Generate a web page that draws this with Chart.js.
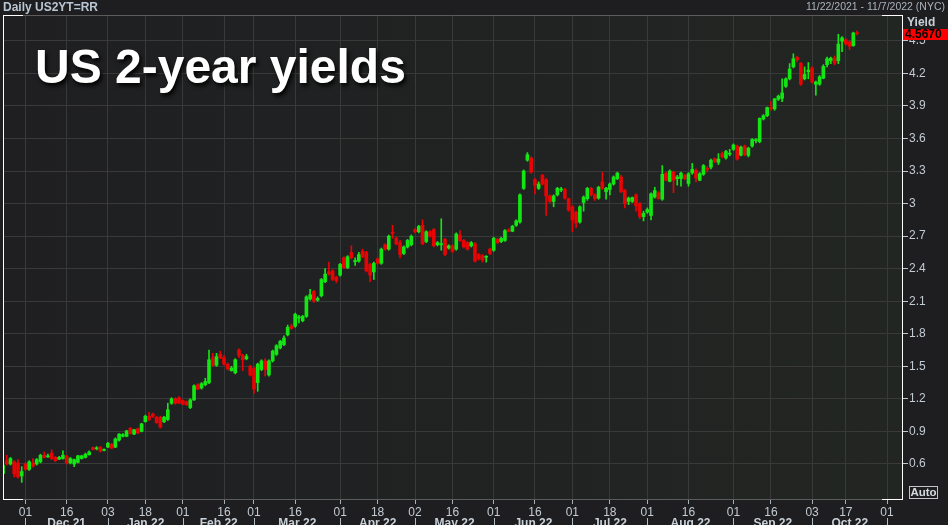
<!DOCTYPE html>
<html>
<head>
<meta charset="utf-8">
<title>US 2-year yields</title>
<script src="https://cdn.jsdelivr.net/npm/chart.js@4.4.0/dist/chart.umd.min.js"></script>
<style>
  html, body { margin: 0; padding: 0; background: #1e1e20; }
  #wrap { position: relative; width: 948px; height: 525px; overflow: hidden; background: #1e1e20; }
  #c { position: absolute; left: 0; top: 0; }
  .hdr { position: absolute; left: 3px; top: 0px; font: bold 12px "Liberation Sans", Arial, sans-serif; color: #b9c6d3; }
  .range { position: absolute; right: 3px; top: 0px; font: 10.5px "Liberation Sans", Arial, sans-serif; color: #aab2ba; }
  .yield { position: absolute; left: 907px; top: 15px; font: bold 12px "Liberation Sans", Arial, sans-serif; color: #c8d0d8; }
  .auto { position: absolute; left: 909px; top: 486px; width: 27px; height: 11px; border: 1px solid #c0c4c8;
          font: bold 11.5px/11px "Liberation Sans", Arial, sans-serif; color: #d4dae0; text-align: center; }
  .big { position: absolute; left: 35px; top: 43px; font: bold 48px/48px "Liberation Sans", Arial, sans-serif;
         color: #ffffff; text-shadow: 2px 3px 4px rgba(0,0,0,0.95); white-space: nowrap; }
</style>
</head>
<body>
<div id="wrap">
  <canvas id="c" width="948" height="525"></canvas>
  <div class="hdr">Daily US2YT=RR</div>
  <div class="range">11/22/2021 - 11/7/2022 (NYC)</div>
  <div class="yield">Yield</div>
  <div class="auto">Auto</div>
  <div class="big">US 2-year yields</div>
</div>
<script>
// trading days on the axis
const firstDay = '2021-11-22';
const lastDay = '2022-11-07';
const holidays = ['2021-11-25', '2021-12-24', '2022-01-17', '2022-02-21', '2022-04-15',
                  '2022-05-30', '2022-06-20', '2022-07-04', '2022-09-05', '2022-10-10'];

// day labels shown under the axis
const dayTicks = ['2021-12-01', '2021-12-16', '2022-01-03', '2022-01-18', '2022-02-01', '2022-02-16',
                  '2022-03-01', '2022-03-16', '2022-04-01', '2022-04-18', '2022-05-02', '2022-05-16',
                  '2022-06-01', '2022-06-16', '2022-07-01', '2022-07-18', '2022-08-01', '2022-08-16',
                  '2022-09-01', '2022-09-16', '2022-10-03', '2022-10-17', '2022-11-01'];
const monthStarts = ['2021-12-01', '2022-01-03', '2022-02-01', '2022-03-01', '2022-04-01', '2022-05-02',
                     '2022-06-01', '2022-07-01', '2022-08-01', '2022-09-01', '2022-10-03', '2022-11-01'];
const monthNames = ['Dec 21', 'Jan 22', 'Feb 22', 'Mar 22', 'Apr 22', 'May 22',
                    'Jun 22', 'Jul 22', 'Aug 22', 'Sep 22', 'Oct 22'];

const yTicks = [0.6, 0.9, 1.2, 1.5, 1.8, 2.1, 2.4, 2.7, 3, 3.3, 3.6, 3.9, 4.2, 4.5];
const yMin = 0.277;
const yMax = 4.738;
const lastQuote = '4.5670';

// daily candles, 22 Nov 2021 .. 20 Oct 2022
const opens = [
  .51, .63, .60, .62, .61, .49, .60, .55, .61, .60,
  .62, .68, .665, .70, .66, .645, .65, .67, .61, .60,
  .615, .65, .66, .685, .75, .74, .755, .725, .755, .78,
  .755, .82, .855, .855, .93, .875, .925, .90, .99, 1.04,
  1.06, 1.03, 1.03, .99, 1.01, 1.16, 1.20, 1.21, 1.185, 1.175,
  1.12, 1.19, 1.33, 1.30, 1.33, 1.35, 1.58, 1.51, 1.61, 1.58,
  1.52, 1.46, 1.44, 1.65, 1.60, 1.57, 1.50, 1.48, 1.35, 1.47,
  1.55, 1.42, 1.55, 1.61, 1.67, 1.70, 1.79, 1.87, 1.87, 1.945,
  1.92, 1.96, 2.12, 2.19, 2.11, 2.15, 2.28, 2.37, 2.38, 2.32,
  2.34, 2.50, 2.41, 2.55, 2.465, 2.47, 2.56, 2.55, 2.44, 2.37,
  2.49, 2.45, 2.62, 2.58, 2.735, 2.68, 2.64, 2.54, 2.60, 2.62,
  2.76, 2.74, 2.80, 2.65, 2.74, 2.76, 2.62, 2.62, 2.67, 2.59,
  2.61, 2.58, 2.71, 2.66, 2.64, 2.61, 2.63, 2.53, 2.52, 2.505,
  2.58, 2.57, 2.67, 2.65, 2.66, 2.755, 2.745, 2.80, 2.83, 3.14,
  3.40, 3.42, 3.22, 3.14, 3.26, 3.22, 3.07, 3.02, 3.08, 3.125,
  3.13, 3.045, 2.97, 2.92, 2.83, 3.01, 3.045, 3.14, 3.08, 3.05,
  3.20, 3.11, 3.13, 3.18, 3.23, 3.245, 3.12, 3.02, 3.02, 3.08,
  3.00, 2.88, 2.92, 2.89, 3.06, 3.10, 3.04, 3.28, 3.205, 3.29,
  3.23, 3.23, 3.26, 3.185, 3.285, 3.305, 3.215, 3.27, 3.325, 3.335,
  3.415, 3.38, 3.46, 3.42, 3.455, 3.50, 3.53, 3.445, 3.53, 3.445,
  3.53, 3.58, 3.57, 3.78, 3.81, 3.885, 3.873, 3.96, 3.97, 4.08,
  4.15, 4.26, 4.347, 4.294, 4.15, 4.215, 4.25, 4.10, 4.10, 4.155,
  4.28, 4.317, 4.34, 4.317, 4.496, 4.51, 4.49, 4.455, 4.575
];
const highs = [
  .60, .68, .66, .63, .64, .575, .61, .63, .65, .65,
  .69, .71, .69, .73, .67, .67, .72, .68, .66, .645,
  .68, .68, .70, .72, .755, .76, .76, .74, .80, .79,
  .84, .88, .88, .91, .935, .92, .93, .975, 1.05, 1.075,
  1.07, 1.04, 1.04, 1.04, 1.16, 1.21, 1.21, 1.22, 1.19, 1.18,
  1.20, 1.33, 1.34, 1.35, 1.39, 1.65, 1.62, 1.62, 1.64, 1.60,
  1.53, 1.50, 1.57, 1.66, 1.61, 1.61, 1.51, 1.49, 1.53, 1.56,
  1.57, 1.56, 1.65, 1.70, 1.74, 1.78, 1.88, 1.89, 1.99, 1.97,
  1.97, 2.15, 2.21, 2.20, 2.14, 2.31, 2.40, 2.46, 2.39, 2.33,
  2.45, 2.51, 2.52, 2.61, 2.50, 2.55, 2.58, 2.56, 2.45, 2.46,
  2.50, 2.59, 2.63, 2.71, 2.80, 2.69, 2.66, 2.61, 2.67, 2.71,
  2.77, 2.80, 2.85, 2.75, 2.75, 2.77, 2.65, 2.86, 2.68, 2.62,
  2.62, 2.73, 2.75, 2.67, 2.65, 2.65, 2.64, 2.54, 2.53, 2.52,
  2.59, 2.69, 2.68, 2.69, 2.76, 2.77, 2.80, 2.85, 3.09, 3.31,
  3.47, 3.43, 3.23, 3.20, 3.27, 3.23, 3.08, 3.08, 3.15, 3.15,
  3.14, 3.05, 2.98, 2.93, 2.98, 3.07, 3.15, 3.15, 3.09, 3.16,
  3.29, 3.15, 3.19, 3.255, 3.29, 3.26, 3.13, 3.06, 3.06, 3.09,
  3.01, 2.93, 2.96, 3.10, 3.15, 3.11, 3.35, 3.29, 3.31, 3.30,
  3.26, 3.29, 3.27, 3.285, 3.37, 3.32, 3.285, 3.36, 3.34, 3.41,
  3.42, 3.46, 3.475, 3.49, 3.50, 3.55, 3.54, 3.53, 3.54, 3.52,
  3.60, 3.60, 3.79, 3.82, 3.89, 3.94, 3.97, 4.00, 4.15, 4.16,
  4.29, 4.38, 4.36, 4.30, 4.26, 4.30, 4.26, 4.13, 4.18, 4.28,
  4.35, 4.35, 4.36, 4.56, 4.54, 4.52, 4.50, 4.58, 4.59
];
const lows = [
  .50, .59, .59, .48, .47, .43, .54, .54, .57, .59,
  .61, .655, .66, .64, .62, .64, .645, .60, .60, .575,
  .61, .645, .655, .68, .73, .73, .71, .72, .75, .74,
  .75, .81, .85, .85, .875, .87, .88, .895, .985, 1.00,
  1.03, .975, .93, .98, 1.00, 1.15, 1.15, 1.155, 1.145, 1.14,
  1.11, 1.185, 1.285, 1.29, 1.32, 1.34, 1.50, 1.50, 1.57, 1.51,
  1.465, 1.455, 1.43, 1.58, 1.46, 1.56, 1.41, 1.25, 1.27, 1.46,
  1.41, 1.41, 1.54, 1.60, 1.66, 1.69, 1.78, 1.84, 1.86, 1.90,
  1.91, 1.95, 2.11, 2.09, 2.10, 2.14, 2.27, 2.34, 2.29, 2.27,
  2.33, 2.40, 2.40, 2.49, 2.43, 2.46, 2.50, 2.37, 2.28, 2.30,
  2.44, 2.44, 2.57, 2.57, 2.68, 2.62, 2.50, 2.53, 2.59, 2.61,
  2.73, 2.73, 2.62, 2.64, 2.69, 2.60, 2.61, 2.57, 2.52, 2.58,
  2.55, 2.57, 2.65, 2.59, 2.57, 2.60, 2.46, 2.48, 2.46, 2.46,
  2.53, 2.56, 2.63, 2.64, 2.65, 2.74, 2.74, 2.79, 2.82, 3.13,
  3.39, 3.28, 3.09, 3.13, 3.17, 2.89, 3.01, 2.97, 3.07, 3.11,
  3.04, 2.93, 2.74, 2.78, 2.82, 2.93, 3.03, 3.07, 3.03, 3.04,
  3.13, 3.04, 3.08, 3.17, 3.22, 3.10, 2.96, 2.99, 3.01, 2.93,
  2.86, 2.84, 2.91, 2.85, 3.05, 3.04, 3.03, 3.21, 3.20, 3.10,
  3.17, 3.16, 3.22, 3.16, 3.27, 3.20, 3.21, 3.26, 3.29, 3.32,
  3.375, 3.36, 3.42, 3.41, 3.44, 3.49, 3.40, 3.44, 3.44, 3.43,
  3.52, 3.56, 3.56, 3.77, 3.80, 3.86, 3.86, 3.95, 3.94, 4.07,
  4.14, 4.25, 4.31, 4.09, 4.14, 4.15, 4.11, 4.00, 4.09, 4.15,
  4.26, 4.29, 4.28, 4.29, 4.40, 4.46, 4.42, 4.45, 4.555
];
const closes = [
  .59, .60, .65, .51, .48, .53, .55, .62, .58, .64,
  .68, .66, .675, .65, .63, .66, .68, .61, .65, .64,
  .675, .675, .69, .71, .735, .745, .72, .73, .79, .745,
  .83, .875, .87, .905, .88, .915, .885, .97, 1.04, 1.01,
  1.04, .98, .94, 1.03, 1.10, 1.20, 1.16, 1.16, 1.15, 1.145,
  1.19, 1.32, 1.29, 1.34, 1.36, 1.56, 1.51, 1.59, 1.58, 1.52,
  1.475, 1.485, 1.56, 1.60, 1.56, 1.59, 1.42, 1.29, 1.52, 1.55,
  1.47, 1.55, 1.64, 1.69, 1.73, 1.76, 1.86, 1.85, 1.98, 1.955,
  1.96, 2.14, 2.16, 2.10, 2.125, 2.30, 2.35, 2.35, 2.30, 2.29,
  2.44, 2.41, 2.51, 2.50, 2.475, 2.53, 2.51, 2.38, 2.34, 2.45,
  2.45, 2.58, 2.58, 2.70, 2.725, 2.63, 2.53, 2.60, 2.66, 2.70,
  2.74, 2.79, 2.63, 2.74, 2.70, 2.61, 2.64, 2.63, 2.53, 2.61,
  2.56, 2.72, 2.66, 2.60, 2.58, 2.64, 2.47, 2.49, 2.48, 2.51,
  2.54, 2.68, 2.64, 2.68, 2.75, 2.745, 2.79, 2.84, 3.08, 3.30,
  3.45, 3.29, 3.17, 3.18, 3.18, 3.07, 3.02, 3.07, 3.14, 3.135,
  3.05, 2.94, 2.85, 2.82, 2.97, 3.06, 3.14, 3.08, 3.045, 3.15,
  3.14, 3.14, 3.18, 3.245, 3.28, 3.11, 3.00, 3.05, 3.055, 2.98,
  2.88, 2.91, 2.945, 3.09, 3.12, 3.045, 3.27, 3.215, 3.30, 3.215,
  3.245, 3.28, 3.23, 3.275, 3.315, 3.235, 3.275, 3.35, 3.315, 3.40,
  3.385, 3.41, 3.43, 3.48, 3.465, 3.54, 3.41, 3.52, 3.45, 3.51,
  3.59, 3.585, 3.785, 3.81, 3.885, 3.873, 3.965, 3.99, 4.02, 4.15,
  4.24, 4.335, 4.326, 4.10, 4.19, 4.23, 4.12, 4.12, 4.168, 4.264,
  4.335, 4.34, 4.294, 4.47, 4.527, 4.47, 4.45, 4.572, 4.567
];

const upColor = '#14e614';
const downColor = '#e80404';

// build the list of trading days
const dates = [];
for (let d = new Date(firstDay + 'T00:00:00Z'); d <= new Date(lastDay + 'T00:00:00Z'); d.setUTCDate(d.getUTCDate() + 1)) {
  const s = d.toISOString().slice(0, 10);
  const wd = d.getUTCDay();
  if (wd === 0 || wd === 6 || holidays.includes(s)) continue;
  dates.push(s);
}

function candleColor(c) {
  const i = c.dataIndex;
  return closes[i] >= opens[i] ? upColor : downColor;
}

const framePlugin = {
  id: 'framePlugin',
  beforeDraw(chart) {
    const { ctx, chartArea: a } = chart;
    const g = ctx.createLinearGradient(a.left, 0, a.right, 0);
    g.addColorStop(0, '#1f1f22');
    g.addColorStop(1, '#222622');
    ctx.save();
    ctx.fillStyle = g;
    ctx.fillRect(a.left, a.top, a.right - a.left, a.bottom - a.top);
    ctx.restore();
  },
  afterDraw(chart) {
    const { ctx, chartArea: a } = chart;
    const xs = chart.scales.x, ys = chart.scales.y;
    ctx.save();
    // frame
    ctx.lineWidth = 1;
    ctx.strokeStyle = '#5c5c5c';
    ctx.beginPath();
    ctx.moveTo(a.left, a.top + 0.5); ctx.lineTo(a.right, a.top + 0.5);
    ctx.stroke();
    ctx.strokeStyle = '#ffffff';
    ctx.beginPath();
    ctx.moveTo(a.left + 0.5, a.top); ctx.lineTo(a.left + 0.5, a.bottom + 1);
    ctx.moveTo(a.left, a.top + 0.5); ctx.lineTo(a.left + 20, a.top + 0.5);
    ctx.moveTo(a.left, a.bottom + 0.5); ctx.lineTo(a.left + 20, a.bottom + 0.5);
    ctx.moveTo(a.right - 20, a.top + 0.5); ctx.lineTo(a.right, a.top + 0.5);
    ctx.moveTo(a.right - 20, a.bottom + 0.5); ctx.lineTo(a.right, a.bottom + 0.5);
    ctx.stroke();

    // month row
    ctx.strokeStyle = '#b4bcc4';
    ctx.fillStyle = '#c8d0d8';
    ctx.font = 'bold 12px "Liberation Sans"';
    ctx.textAlign = 'center';
    ctx.textBaseline = 'top';
    monthStarts.forEach((m, k) => {
      const px = Math.round(xs.getPixelForValue(dates.indexOf(m))) + 0.5;
      ctx.beginPath();
      ctx.moveTo(px, 518); ctx.lineTo(px, 525);
      ctx.stroke();
      if (k < monthNames.length) {
        const nx = xs.getPixelForValue(dates.indexOf(monthStarts[k + 1]));
        ctx.fillText(monthNames[k], (px + nx) / 2, 518);
      }
    });

    // last price box
    const py = Math.round(ys.getPixelForValue(closes[closes.length - 1]));
    ctx.fillStyle = '#ff0000';
    ctx.fillRect(a.right + 1, py - 5, 46, 11);
    ctx.fillStyle = '#000000';
    ctx.textAlign = 'left';
    ctx.textBaseline = 'middle';
    ctx.fillText(lastQuote, a.right + 3, py + 1);
    ctx.restore();
  }
};

Chart.defaults.font.family = '"Liberation Sans", Arial, sans-serif';
Chart.defaults.font.size = 12;

new Chart(document.getElementById('c').getContext('2d'), {
  type: 'bar',
  data: {
    labels: dates,
    datasets: [
      {
        label: 'wick',
        data: lows.map((l, i) => [l, highs[i]]),
        backgroundColor: candleColor,
        barThickness: 1,
        grouped: false,
        order: 2
      },
      {
        label: 'body',
        data: opens.map((o, i) => [o, closes[i]]),
        backgroundColor: candleColor,
        barThickness: 3,
        minBarLength: 1,
        grouped: false,
        order: 1
      }
    ]
  },
  options: {
    responsive: false,
    animation: false,
    layout: { padding: { left: 3, top: 15, right: 0, bottom: 0 } },
    plugins: { legend: { display: false }, tooltip: { enabled: false } },
    scales: {
      x: {
        type: 'category',
        offset: false,
        grid: { offset: false, color: '#393939', tickColor: '#a8b0b8', tickLength: 5 },
        border: { color: '#5c5c5c' },
        ticks: {
          autoSkip: false, maxRotation: 0, minRotation: 0, padding: 1,
          color: '#c3cbd3',
          callback: v => dates[v].slice(8)
        },
        afterBuildTicks: s => { s.ticks = s.ticks.filter(t => dayTicks.includes(dates[t.value])); },
        afterFit: s => { s.height = 26; }
      },
      y: {
        position: 'right',
        min: yMin,
        max: yMax,
        grid: { color: '#393939', tickColor: '#c0c8d0', tickLength: 6 },
        border: { color: '#ffffff' },
        ticks: { color: '#c3cbd3', padding: 1, callback: v => String(v) },
        afterBuildTicks: s => { s.ticks = yTicks.map(v => ({ value: v })); },
        afterFit: s => { s.width = 46; }
      }
    }
  },
  plugins: [framePlugin]
});
</script>
</body>
</html>
